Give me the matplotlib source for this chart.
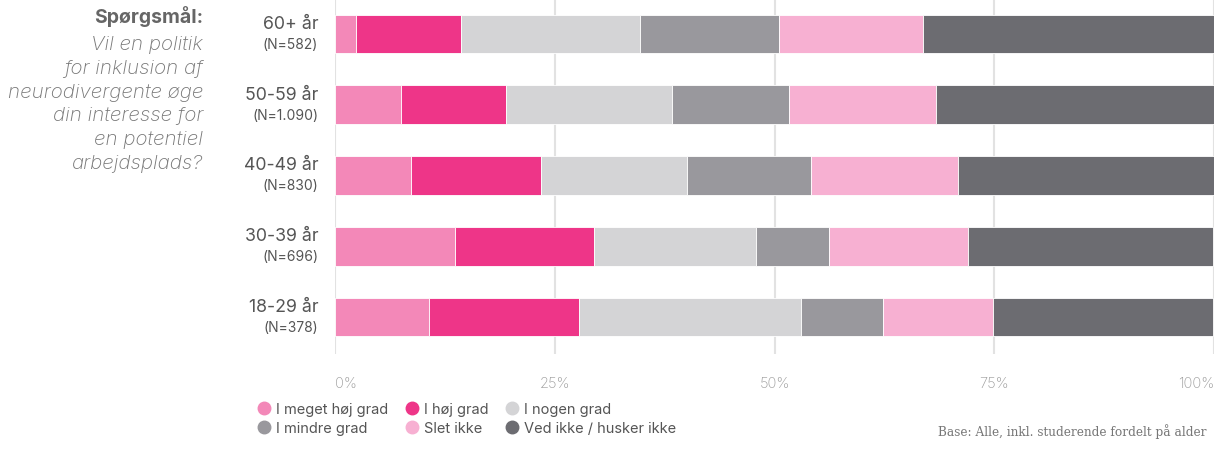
import matplotlib.pyplot as plt
from matplotlib.lines import Line2D
from matplotlib.transforms import blended_transform_factory

plt.rcParams['font.family'] = ['Inter', 'DejaVu Sans']

# data (percent), rows from bottom to top
groups = ['18-29 år', '30-39 år', '40-49 år', '50-59 år', '60+ år']
n_labels = ['(N=378)', '(N=696)', '(N=830)', '(N=1.090)', '(N=582)']
categories = ['I meget høj grad', 'I høj grad', 'I nogen grad',
              'I mindre grad', 'Slet ikke', 'Ved ikke / husker ikke']
meget_hoj = [10.7, 13.6, 8.6, 7.5, 2.4]
hoj = [17.1, 15.9, 14.8, 12.0, 11.9]
nogen = [25.2, 18.4, 16.6, 18.8, 20.4]
mindre = [9.4, 8.3, 14.2, 13.3, 15.8]
slet_ikke = [12.5, 15.8, 16.7, 16.8, 16.4]
ved_ikke = [25.0, 27.9, 29.1, 31.6, 33.1]
series = [meget_hoj, hoj, nogen, mindre, slet_ikke, ved_ikke]
colors = ['#F388B8', '#EE3588', '#D4D4D6', '#99989D', '#F7B0D2', '#6C6C71']
tick_vals = [0, 25, 50, 75, 100]
tick_labels = ['0%', '25%', '50%', '75%', '100%']

fig = plt.figure(figsize=(12.17, 4.52), dpi=100)
ax = fig.add_axes([335 / 1217, 97 / 452, 879 / 1217, 355 / 452])

ypos = list(range(len(groups)))
left = [0.0] * len(groups)
for vals, col, name in zip(series, colors, categories):
    ax.barh(ypos, vals, left=left, height=0.545, color=col,
            edgecolor='white', linewidth=0.6, label=name, zorder=3)
    left = [l + v for l, v in zip(left, vals)]

ax.set_xlim(0, 100)
ax.set_ylim(-0.523, 4.495)
for v in tick_vals:
    ax.axvline(v, color='#E2E2E2', linewidth=1.5, zorder=1)
for s in ax.spines.values():
    s.set_visible(False)
ax.set_yticks([])
ax.set_xticks(tick_vals)
ax.set_xticklabels(tick_labels, color='#9A9A9A', fontsize=10.5, fontweight='light')
ax.tick_params(axis='x', length=0, pad=16)
labels = ax.get_xticklabels()
labels[0].set_ha('left')
labels[-1].set_ha('right')

# row labels
tr = blended_transform_factory(ax.transAxes, ax.transData)
for y, g, n in zip(ypos, groups, n_labels):
    ax.text(-0.019, y + 0.15, g, transform=tr, ha='right', va='center',
            fontsize=12.8, color='#555555')
    ax.text(-0.019, y - 0.14, n, transform=tr, ha='right', va='center',
            fontsize=10, color='#555555')

# question text
fig.text(203 / 1217, 1 - 17 / 452, 'Spørgsmål:', ha='right', va='center',
         fontsize=14, fontweight='bold', color='#666666')
question = ['Vil en politik', 'for inklusion af', 'neurodivergente øge',
            'din interesse for', 'en potentiel', 'arbejdsplads?']
for i, line in enumerate(question):
    fig.text(203 / 1217, 1 - (45 + i * 23.8) / 452, line, ha='right', va='center',
             fontsize=14.8, style='italic', fontweight='light', color='#777777')

# legend
order = [0, 3, 1, 4, 2, 5]
handles = [Line2D([], [], marker='o', linestyle='', markersize=9,
                  markerfacecolor=colors[i], markeredgecolor=colors[i]) for i in order]
fig.legend(handles, [categories[i] for i in order], ncol=3, loc='upper left',
           bbox_to_anchor=(258 / 1217, 1 - 403 / 452), frameon=False,
           fontsize=10.5, labelcolor='#555555', handlelength=0.8, handletextpad=0.45,
           columnspacing=1.2, labelspacing=0.35, borderaxespad=0, borderpad=0)

fig.text(1206 / 1217, 1 - 432 / 452, 'Base: Alle, inkl. studerende fordelt på alder',
         ha='right', va='center', fontsize=8.7, family='DejaVu Serif', color='#777777')

fig.savefig('out.png', dpi=100)
